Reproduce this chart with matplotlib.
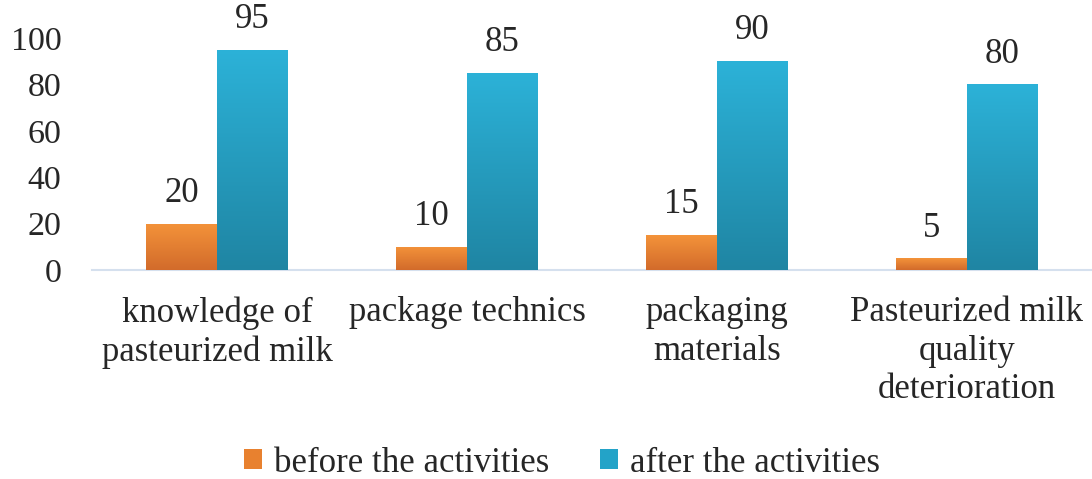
import numpy as np
import matplotlib
matplotlib.use("Agg")
import matplotlib.pyplot as plt
from matplotlib.colors import LinearSegmentedColormap
from matplotlib.patches import Patch

categories = ["knowledge of\npasteurized milk", "package technics",
              "packaging\nmaterials", "Pasteurized milk\nquality\ndeterioration"]
before = [20, 10, 15, 5]
after = [95, 85, 90, 80]
series_names = ["before the activities", "after the activities"]
yticks = [0, 20, 40, 60, 80, 100]

FAMILY = "Liberation Serif"
text_color = "#262626"
fs = 25

fig = plt.figure(figsize=(10.92, 4.79), dpi=100)
ax = fig.add_axes([92 / 1092, 1 - 270 / 479, 1000 / 1092, 232 / 479])

x = np.arange(len(categories))
width = 0.284

orange_cmap = LinearSegmentedColormap.from_list("orange", ["#d26b2b", "#f4933a"])
blue_cmap = LinearSegmentedColormap.from_list("blue", ["#1f85a3", "#2cb2d8"])

grad = np.linspace(0, 1, 256).reshape(-1, 1)

def gradient_bars(positions, values, cmap, mid):
    bars = ax.bar(positions, values, width, color=mid, zorder=2, linewidth=0)
    for b in bars:
        bx, by = b.get_x(), b.get_y()
        bw, bh = b.get_width(), b.get_height()
        im = ax.imshow(grad, extent=[bx, bx + bw, by, by + bh], origin="lower",
                       aspect="auto", cmap=cmap, zorder=3)
        im.set_clip_path(b)
    return bars

b1 = gradient_bars(x - width / 2, before, orange_cmap, "#e67f33")
b2 = gradient_bars(x + width / 2, after, blue_cmap, "#2599bd")

for bars, vals in ((b1, before), (b2, after)):
    for b, v in zip(bars, vals):
        ax.annotate(f"{v}", (b.get_x() + b.get_width() / 2, v),
                    xytext=(0, 10), textcoords="offset points",
                    ha="center", va="bottom", fontsize=fs, color=text_color,
                    fontfamily=FAMILY)

ax.set_xlim(-0.5, len(categories) - 0.5)
ax.set_ylim(0, 100)
ax.set_yticks(yticks)
ax.set_yticklabels([str(t) for t in yticks], fontsize=24.5, color=text_color,
                   fontfamily=FAMILY)
ax.set_xticks(x)
ax.set_xticklabels(categories, fontsize=fs, color=text_color, linespacing=1.22,
                   fontfamily=FAMILY)
ax.tick_params(axis="y", length=0, pad=22)
ax.tick_params(axis="x", length=0, pad=19)
for s in ("top", "right", "left"):
    ax.spines[s].set_visible(False)
ax.spines["bottom"].set_color("#d5e0ee")
ax.spines["bottom"].set_linewidth(1.5)
ax.patch.set_alpha(0)

handles = [Patch(facecolor="#e8812f", linewidth=0),
           Patch(facecolor="#23a3c8", linewidth=0)]
fig.legend(handles, series_names, loc="center", bbox_to_anchor=(562 / 1092, 1 - 463 / 479),
           ncol=2, frameon=False, prop={"family": FAMILY, "size": fs},
           handlelength=0.52, handleheight=0.52,
           handletextpad=0.35, columnspacing=1.45, labelcolor=text_color)

fig.savefig("out.png", dpi=100)
